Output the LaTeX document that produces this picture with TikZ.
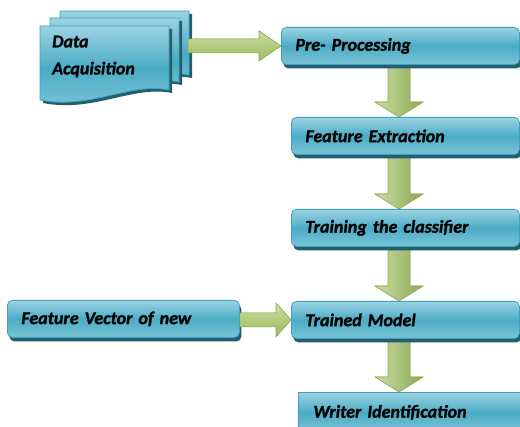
\documentclass[tikz,border=0pt]{standalone}
\usepackage{fontspec}
\setmainfont{Carlito}
\newfontfamily\boxfont{Carlito Bold Italic}[FakeBold=1.3]
\usetikzlibrary{calc,shadows}
\definecolor{tealL}{HTML}{9CD3E2}
\definecolor{tealM}{HTML}{4BACC6}
\definecolor{tealB}{HTML}{3FA3C0}
\definecolor{tealS}{HTML}{235E6E}
\definecolor{grL}{HTML}{CADDA6}
\definecolor{grM}{HTML}{9BBB59}
\definecolor{grB}{HTML}{8AAA4E}
\definecolor{grS}{HTML}{56692C}
\tikzset{
  x=1pt, y=-1pt,
  txt/.style={font=\fontsize{18}{21}\selectfont\boxfont, text=black},
  stepbox/.style={txt, draw=tealB, line width=0.8pt, rounded corners=5pt,
    top color=tealL, bottom color=tealL!60!tealM, middle color=tealM,
    drop shadow={shadow xshift=2pt, shadow yshift=-4pt, fill=tealS, opacity=1},
    anchor=north west, minimum height=37pt, inner xsep=14pt, align=left},
  sheet/.style={draw=tealB, line width=0.8pt,
    top color=tealL, bottom color=tealL!60!tealM, middle color=tealM,
    drop shadow={shadow xshift=3pt, shadow yshift=-3pt, fill=tealS, opacity=1}},
  gshadow/.style={fill=grS, shift={(2pt,-3pt)}},
  gbodyh/.style={draw=grB, line width=0.6pt, top color=grL, bottom color=grM},
  gbodyv/.style={draw=grB, line width=0.6pt, left color=grL, right color=grM!90!black},
}
\newcommand\garrowH[5]{%
  \path[gshadow] let \p1=(#1), \p2=(#2) in
    (\x1,\y2+#3) -- (\x2-#5,\y2+#3) -- (\x2-#5,\y2+#4) -- (\x2,\y2)
    -- (\x2-#5,\y2-#4) -- (\x2-#5,\y2-#3) -- (\x1,\y2-#3) -- cycle;
  \path[gbodyh] let \p1=(#1), \p2=(#2) in
    (\x1,\y2+#3) -- (\x2-#5,\y2+#3) -- (\x2-#5,\y2+#4) -- (\x2,\y2)
    -- (\x2-#5,\y2-#4) -- (\x2-#5,\y2-#3) -- (\x1,\y2-#3) -- cycle;
}
\newcommand\garrowV[5]{%
  \path[gshadow] let \p1=(#1), \p2=(#2), \p3=(axis) in
    (\x3-#3,\y1) -- (\x3+#3,\y1) -- (\x3+#3,\y2+#5) -- (\x3+#4,\y2+#5) -- (\x3,\y2)
    -- (\x3-#4,\y2+#5) -- (\x3-#3,\y2+#5) -- cycle;
  \path[gbodyv] let \p1=(#1), \p2=(#2), \p3=(axis) in
    (\x3-#3,\y1) -- (\x3+#3,\y1) -- (\x3+#3,\y2+#5) -- (\x3+#4,\y2+#5) -- (\x3,\y2)
    -- (\x3-#4,\y2+#5) -- (\x3-#3,\y2+#5) -- cycle;
}
\begin{document}
\begin{tikzpicture}
\useasboundingbox (0,0) rectangle (520,427);
\clip (0,0) rectangle (520,427);
\fill[white] (0,0) rectangle (520,427);
\coordinate (axis) at (399,0);
% stacked document
\path[sheet] (60,11) -- (189,11) -- (189,75) .. controls (150,67) and (110,95) .. (60,85) -- cycle;
\path[sheet] (50,18) -- (179,18) -- (179,82) .. controls (140,74) and (100,102) .. (50,92) -- cycle;
\path[sheet] (40,26) -- (169,26) -- (169,90) .. controls (130,82) and (90,110) .. (40,100) -- cycle;
\node[txt, anchor=west, align=left, inner sep=0pt, font=\fontsize{18}{27}\selectfont\boxfont] (doc) at (52,56.5) {Data\\Acquisition};
\coordinate (docedge) at (188,45);
% box corners
\path (281,27) coordinate (preNW) (291,117) coordinate (feNW) (291,209) coordinate (trNW)
      (291,301) coordinate (tmNW) (7,300) coordinate (fvNW) (298,392) coordinate (wiNW);
% arrow end points
\path (preNW) ++(119,36) coordinate (preBot);
\path (feNW) coordinate (feTop);
\path (feNW) ++(0,37) coordinate (feBot);
\path (trNW) coordinate (trTop);
\path (trNW) ++(0,37) coordinate (trBot);
\path (tmNW) coordinate (tmTop);
\path (tmNW) ++(0,37) coordinate (tmBot);
\path (wiNW) coordinate (wiTop);
\garrowV{preBot}{feTop}{11pt}{24pt}{15pt}
\garrowV{feBot}{trTop}{11pt}{24pt}{15pt}
\garrowV{trBot}{tmTop}{11pt}{24pt}{15pt}
\garrowV{tmBot}{wiTop}{11pt}{24pt}{15pt}
% boxes
\node[stepbox, text width=210pt] (pre) at (preNW) {Pre- Processing};
\node[stepbox, text width=200pt] (fe) at (feNW) {Feature Extraction};
\node[stepbox, text width=200pt] (tr) at (trNW) {Training the classifier};
\node[stepbox, text width=200pt] (tm) at (tmNW) {Trained Model};
\node[stepbox, text width=204pt] (fv) at (fvNW) {Feature Vector of new};
\node[stepbox, rounded corners=0pt, text width=210pt, minimum height=40pt, inner xsep=15pt] (wi) at (wiNW) {Writer Identification};
% horizontal arrows
\garrowH{docedge}{pre.west}{7pt}{15pt}{22pt}
\garrowH{fv.east}{tm.west}{7pt}{17pt}{15pt}
\end{tikzpicture}
\end{document}
